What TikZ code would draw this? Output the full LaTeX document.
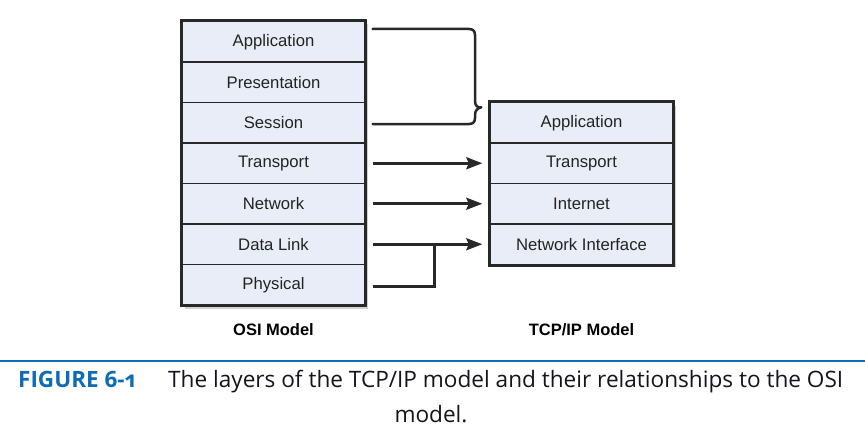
\documentclass[tikz,border=0pt]{standalone}
\usepackage{fontspec}
\setmainfont{Liberation Sans}
\newfontfamily\capfont{Open Sans}
\newfontfamily\capfontold{Open Sans}[Numbers=OldStyle]
\usetikzlibrary{arrows.meta,calc}
\definecolor{layerfill}{RGB}{233,237,248}
\definecolor{edge}{RGB}{40,40,40}
\definecolor{txt}{RGB}{35,35,35}
\definecolor{capblue}{RGB}{14,108,180}
\definecolor{captxt}{RGB}{20,20,30}
\tikzset{
  layer/.style={draw=edge, line width=1.4pt, fill=layerfill, minimum width=183pt,
    minimum height=40.5pt, inner sep=0pt, text=txt, font=\fontsize{16.7}{18}\selectfont},
  outer/.style={draw=edge, line width=3.2pt},
  conn/.style={draw=edge, line width=2.8pt},
  arr/.style={conn, -{Stealth[length=16pt,width=12pt,inset=2.5pt]}},
  title/.style={font=\fontsize{16.5}{18}\selectfont\bfseries, text=black, inner sep=0pt},
  shadowbox/.style={fill=black, opacity=0.18},
}
\begin{document}
\begin{tikzpicture}[x=1pt,y=-1pt]
\useasboundingbox (0,0) rectangle (865,428);
% shadows
\fill[shadowbox] (185,24.5) rectangle (368,309);
\fill[shadowbox] (493,105.5) rectangle (676,266.5);
% OSI stack
\node[layer] (osiApp)   at (273.5, 41.75) {Application};
\node[layer] (osiPres)  at (273.5, 82.25) {Presentation};
\node[layer] (osiSes)   at (273.5,122.75) {Session};
\node[layer] (osiTrans) at (273.5,163.25) {Transport};
\node[layer] (osiNet)   at (273.5,203.75) {Network};
\node[layer] (osiDL)    at (273.5,244.25) {Data Link};
\node[layer] (osiPhy)   at (273.5,284.75) {Physical};
\draw[outer] (osiApp.north west) rectangle (osiPhy.south east);
% TCP/IP stack
\node[layer] (tcpApp)   at (581.5,122.75) {Application};
\node[layer] (tcpTrans) at (581.5,163.25) {Transport};
\node[layer] (tcpNet)   at (581.5,203.75) {Internet};
\node[layer] (tcpNI)    at (581.5,244.25) {Network Interface};
\draw[outer] (tcpApp.north west) rectangle (tcpNI.south east);
% titles
\node[title] (osiTitle) at (273.5,330) {OSI Model};
\node[title] (tcpTitle) at (581.5,330) {TCP/IP Model};
% brace
\coordinate (bTop) at ([xshift=7pt,yshift=12.75pt]osiApp.east);
\coordinate (bBot) at ([xshift=7pt,yshift=-1.25pt]osiSes.east);
\coordinate (bTip) at ([xshift=-8pt,yshift=-5.5pt]tcpApp.north west);
\draw[conn, line width=2.5pt, line cap=round, line join=round]
  (bTop) -- (469,29) .. controls (473,29) and (475,31) .. (475,35)
  -- (475,101) .. controls (475,106) and (478,108) .. (bTip)
  .. controls (478,108) and (475,110) .. (475,115)
  -- (475,118) .. controls (475,122) and (473,124) .. (469,124) -- (bBot);
% arrows
\draw[arr] ([xshift=7pt]osiTrans.east) -- ([xshift=-7pt]tcpTrans.west);
\draw[arr] ([xshift=7pt]osiNet.east) -- ([xshift=-7pt]tcpNet.west);
\draw[arr] ([xshift=7pt]osiDL.east) -- ([xshift=-7pt]tcpNI.west);
\coordinate (join) at ([xshift=69pt]osiDL.east);
\draw[conn] ([xshift=7pt,yshift=-2pt]osiPhy.east) -| (join);
% caption
\draw[capblue, line width=2.5pt] (0,361) -- (865,361);
\node[anchor=base west, inner sep=0pt, text=capblue, font=\capfontold\fontsize{22.5}{26}\selectfont\bfseries] (figLabel) at (18,387) {FIGURE 6-1};
\node[anchor=base west, inner sep=0pt, text=captxt, font=\capfont\fontsize{22.6}{26}\selectfont] (capLine1) at (168,387) {The layers of the TCP/IP model and their relationships to the OSI};
\node[anchor=base, inner sep=0pt, text=captxt, font=\capfont\fontsize{22.6}{26}\selectfont] (capLine2) at (431,422) {model.};
\end{tikzpicture}
\end{document}
